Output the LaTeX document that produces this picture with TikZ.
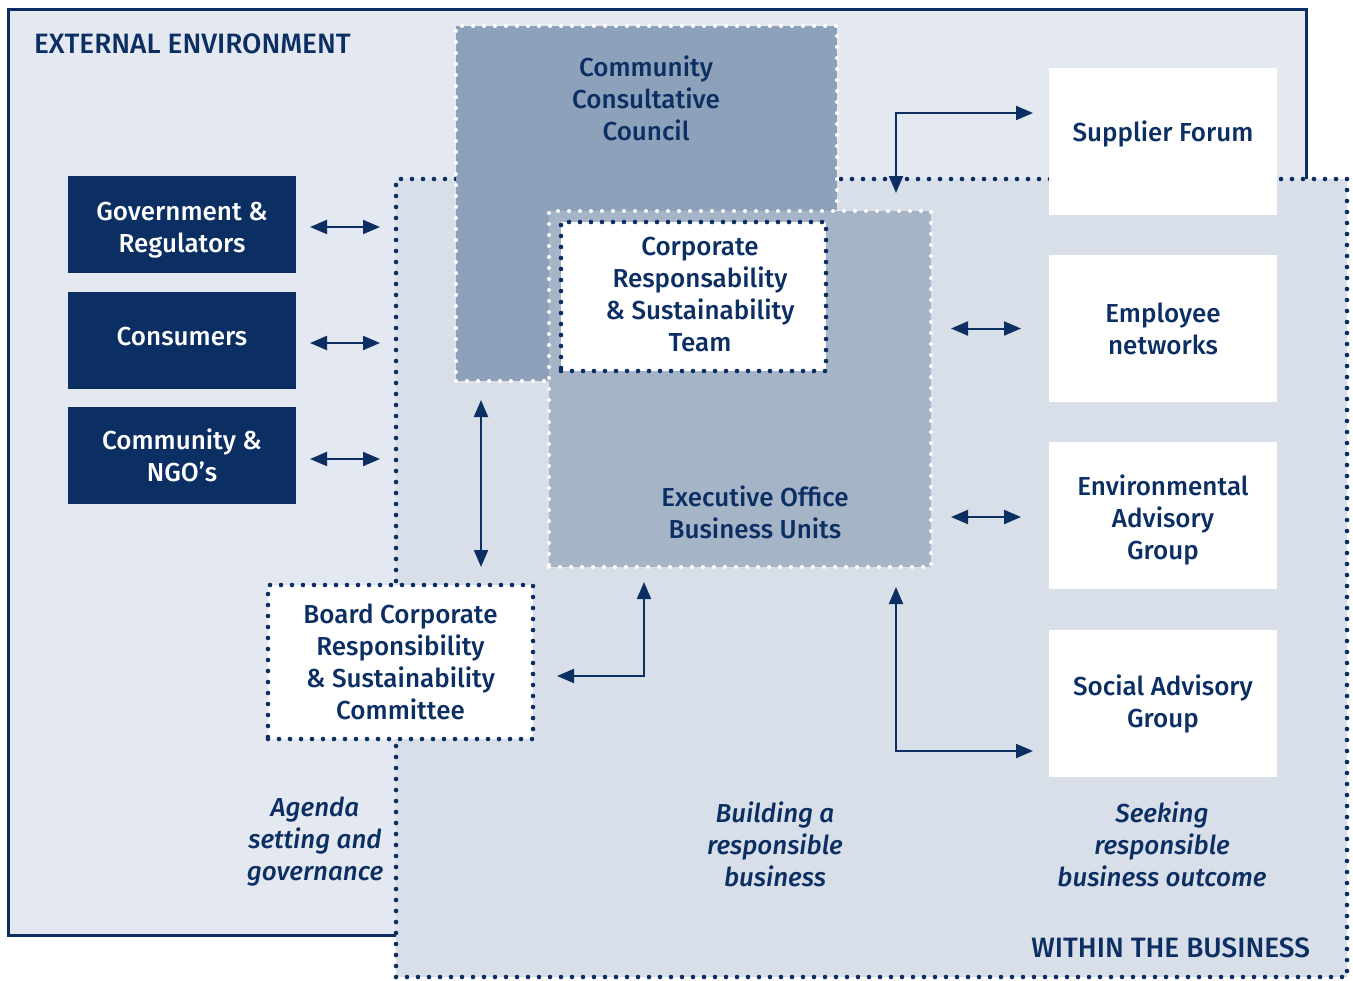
\documentclass[tikz,border=0pt]{standalone}
\usepackage{fontspec}
\setmainfont{Fira Sans}[UprightFont=* Medium, ItalicFont=* Medium Italic]
\usetikzlibrary{arrows.meta,positioning}
\definecolor{navy}{HTML}{0B2E63}
\definecolor{extbg}{HTML}{E4E8F0}
\definecolor{inbg}{HTML}{D9DFE8}
\definecolor{cccbg}{HTML}{8DA1BA}
\definecolor{execbg}{HTML}{A6B4C8}
\tikzset{
  >={Triangle[length=8.5pt,width=7pt]},
  every node/.style={font=\fontsize{13}{16}\selectfont, text=navy, align=center, outer sep=0pt},
  every label/.style={font=\fontsize{13}{16}\selectfont, align=center},
  darkbox/.style={fill=navy, text=white, minimum width=114pt, minimum height=48.5pt},
  whitebox/.style={fill=white, minimum width=114pt, minimum height=73.5pt},
  navydots/.style={draw=navy, line width=2.3pt, line cap=round, dash pattern=on 0pt off 5.5pt},
  whitedots/.style={draw=white, line width=2pt, line cap=round, dash pattern=on 0pt off 5.5pt},
  conn/.style={<->, draw=navy, line width=1pt},
  areatext/.style={font=\fontsize{14}{16}\selectfont, inner xsep=0pt},
  note/.style={font=\fontsize{13}{16}\selectfont\itshape}
}
\begin{document}
\begin{tikzpicture}[x=0.5pt,y=-0.5pt]
\useasboundingbox (0,0) rectangle (1353,980);
% areas
\node[draw=navy, line width=1.5pt, fill=extbg, minimum width=649pt, minimum height=463pt] (external) at (657,472) {};
\node[navydots, fill=inbg, minimum width=475.5pt, minimum height=399pt] (within) at (871.5,578) {};
\node[areatext, anchor=west] (exttext) at (34,44) {EXTERNAL ENVIRONMENT};
\node[areatext, anchor=east] (withintext) at (1310,948) {WITHIN THE BUSINESS};
% middle blocks
\node[whitedots, fill=cccbg, minimum width=190.5pt, minimum height=177.5pt] (ccc) at (646.5,203.5) {};
\node (ccctext) at (646,98) {Community\\Consultative\\Council};
\node[whitedots, fill=execbg, minimum width=191pt, minimum height=178pt] (exec) at (740,389) {};
\node (exectext) at (755,512) {Executive Office\\Business Units};
\node[navydots, fill=white, minimum width=132.5pt, minimum height=74.5pt] (team) at (693.5,296.5) {};
\node (teamtext) at (700,295) {Corporate\\Responsability\\\& Sustainability\\Team};
\node[navydots, fill=white, minimum width=132.5pt, minimum height=77pt] (board) at (400.5,662) {Board Corporate\\Responsibility\\\& Sustainability\\Committee};
% external parties
\node[darkbox, label={[text=white, yshift=-3pt]center:Government \&\\Regulators}] (gov) at (182,224.5) {};
\node[darkbox, label={[text=white, yshift=2pt]center:Consumers}] (consumers) at (182,340.5) {};
\node[darkbox] (community) at (182,455.5) {Community \&\\NGO's};
% business parties
\node[whitebox, label={[yshift=3.75pt]center:Supplier Forum}] (supplier) at (1163,141.5) {};
\node[whitebox] (employee) at (1163,328.5) {Employee\\networks};
\node[whitebox, label={[yshift=-2pt]center:Environmental\\Advisory\\Group}] (environ) at (1163,515.5) {};
\node[whitebox] (social) at (1163,703.5) {Social Advisory\\Group};
% notes
\node[note] (agenda) at (315,842) {Agenda\\setting and\\governance};
\node[note] (building) at (775,844) {Building a\\responsible\\business};
\node[note] (seeking) at (1162,844) {Seeking\\responsible\\business outcome};
% connectors
\draw[conn, shorten <=7pt, shorten >=8pt] ([yshift=-1.25pt]gov.east) -- ([yshift=-1.25pt]gov.east -| within.west);
\draw[conn, shorten <=7pt, shorten >=8pt] ([yshift=-1.25pt]consumers.east) -- ([yshift=-1.25pt]consumers.east -| within.west);
\draw[conn, shorten <=7pt, shorten >=8pt] ([yshift=-1.75pt]community.east) -- ([yshift=-1.75pt]community.east -| within.west);
\draw[conn, shorten <=10pt, shorten >=14pt] (employee.west -| exec.east) -- (employee.west);
\draw[conn, shorten <=10pt, shorten >=14pt] ([yshift=-0.75pt]environ.west -| exec.east) -- ([yshift=-0.75pt]environ.west);
\draw[conn, shorten <=9.5pt, shorten >=9pt] ([xshift=12.5pt]ccc.south west) -- ([xshift=12.5pt]ccc.south west |- board.north);
\draw[conn, shorten <=12pt, shorten >=7.5pt] ([yshift=-7pt]board.east) -| ([xshift=47.5pt]exec.south west);
\draw[conn, shorten <=8pt, shorten >=9pt] ([yshift=14.25pt]supplier.west) -| ([xshift=-17.5pt]exec.north east);
\draw[conn, shorten <=8pt, shorten >=10pt] ([yshift=-23.75pt]social.west) -| ([xshift=-17.5pt]exec.south east);
\end{tikzpicture}
\end{document}
